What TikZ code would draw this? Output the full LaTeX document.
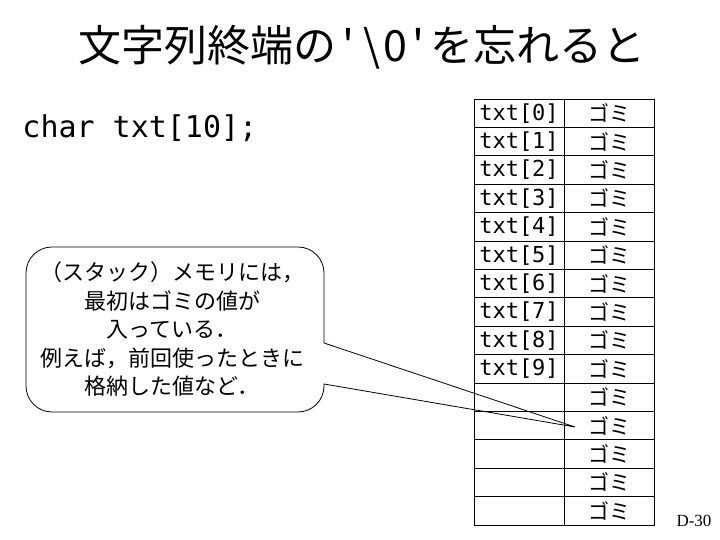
\documentclass[tikz,border=0pt]{standalone}
\usepackage{fontspec}
\newfontfamily\jp{Noto Sans CJK JP}
\newfontfamily\code{DejaVu Sans Mono}
\newfontfamily\tnr{Liberation Serif}
\newcommand{\hw}[1]{\makebox[0.55em]{#1}}

\begin{document}
\begin{tikzpicture}[x=1pt,y=1pt,line width=0.9pt,
  cell/.style={draw,minimum width=90pt,minimum height=28.4pt,inner sep=0pt}]
  \useasboundingbox (0,0) rectangle (720,540);
  % titulo
  \node[font=\jp\fontsize{43}{50}\selectfont] (title) at (362,493)
    {文字列終端の\hw{'}\hw{\textbackslash}\hw{0}\hw{'}を忘れると};
  % declaracion
  \node[font=\code\fontsize{30}{36}\selectfont,anchor=base west,inner sep=0pt] (decl) at (22,402) {char txt[10];};
  % tabla de la memoria
  \foreach \i in {0,...,14}{
    \pgfmathsetmacro{\yc}{441-28.4*\i-14.2}
    \node[cell,font=\code\fontsize{22}{26}\selectfont] (idx-\i) at (519,\yc) {\ifnum\i<10 txt[\i]\fi};
    \node[cell,font=\jp\fontsize{21}{24}\selectfont] (val-\i) at (609,\yc) {ゴミ};
  }
  % globo con la punta
  \coordinate (tip) at (575,113);
  \draw[line width=0.8pt] (324,197) -- (tip) -- (324,156) -- (324,154)
    arc[start angle=0,end angle=-90,radius=26] -- (52,128)
    arc[start angle=270,end angle=180,radius=26] -- (26,267)
    arc[start angle=180,end angle=90,radius=26] -- (298,293)
    arc[start angle=90,end angle=0,radius=26] -- cycle;
  \node[font=\jp\fontsize{22}{28.5}\selectfont,align=center] (note) at (172,211)
    {（スタック）メモリには，\\最初はゴミの値が\\入っている．\\例えば，前回使ったときに\\格納した値など．};
  \node[font=\tnr\fontsize{17}{20}\selectfont] (page) at (694,19) {D-30};
\end{tikzpicture}
\end{document}
